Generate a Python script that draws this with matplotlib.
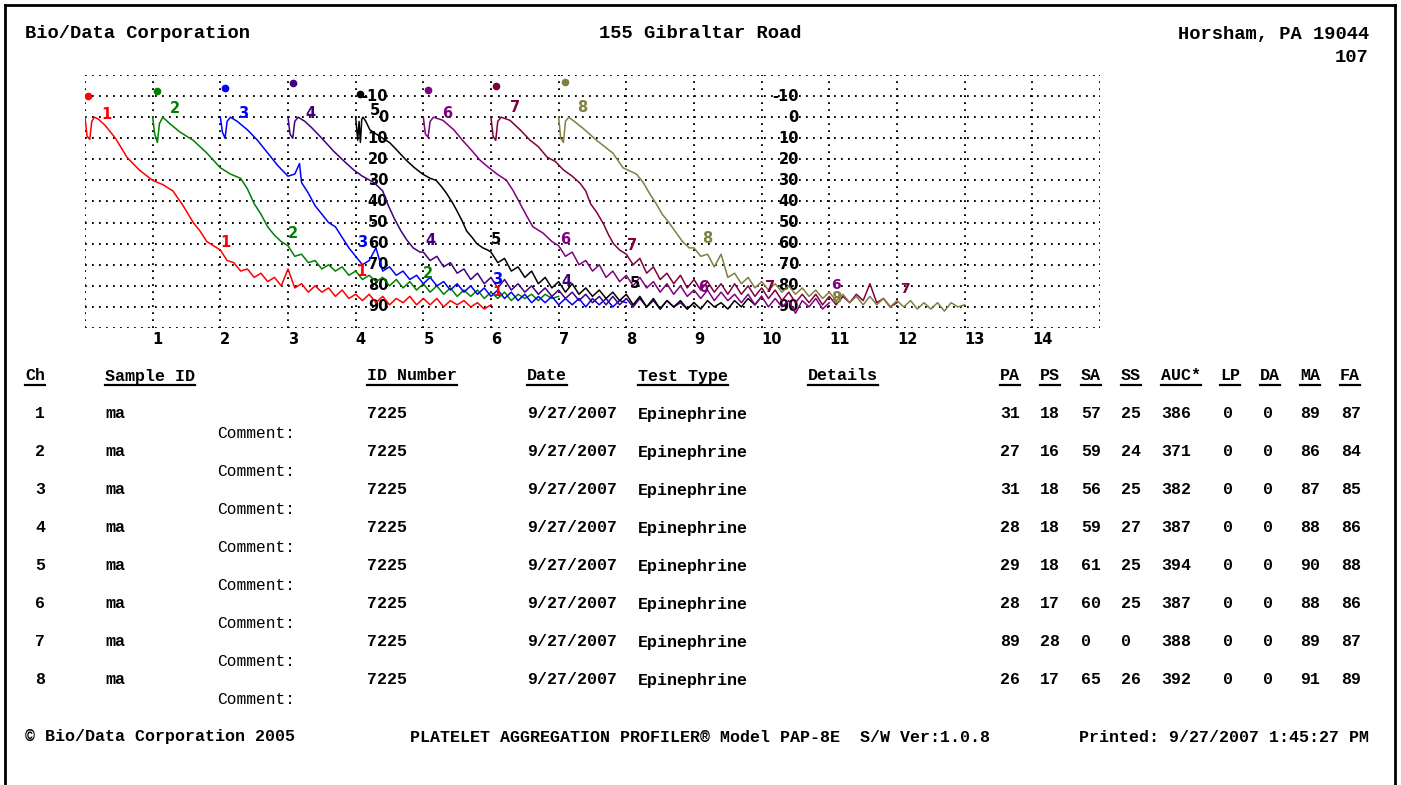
import matplotlib
matplotlib.use("Agg")
import matplotlib.pyplot as plt
from matplotlib.lines import Line2D

# ---------------- data ----------------
CH_START = [0, 1, 2, 3, 4, 5, 6, 7]          # minutes at which each channel trace starts
CH_COLORS = ["#ff0000", "#008000", "#0000ff", "#400080",
             "#000000", "#800080", "#800040", "#808040"]

HEAD_T = [
    [0, 0.03, 0.07, 0.1, 0.14, 0.2, 0.3, 0.45, 0.62, 0.8, 1.0, 1.15, 1.3, 1.45, 1.6, 1.7, 1.8, 1.9],
    [0, 0.03, 0.07, 0.1, 0.15, 0.25, 0.4, 0.6, 0.8, 1.0, 1.15, 1.3, 1.4, 1.5, 1.6, 1.7, 1.8, 1.9],
    [0, 0.03, 0.07, 0.1, 0.15, 0.25, 0.4, 0.55, 0.7, 0.85, 1.0, 1.1, 1.17, 1.2, 1.3, 1.4, 1.5, 1.6, 1.7, 1.8, 1.9],
    [0, 0.03, 0.07, 0.1, 0.15, 0.25, 0.35, 0.5, 0.67, 0.8, 0.97, 1.1, 1.27, 1.4, 1.47, 1.57, 1.67, 1.75, 1.85, 1.95],
    [0, 0.03, 0.05, 0.07, 0.09, 0.11, 0.15, 0.21, 0.35, 0.5, 0.62, 0.75, 0.87, 0.99, 1.1, 1.19, 1.27, 1.34,
     1.42, 1.49, 1.57, 1.64, 1.72, 1.79, 1.88, 1.95],
    [0, 0.03, 0.07, 0.1, 0.15, 0.29, 0.45, 0.58, 0.72, 0.84, 0.97, 1.09, 1.23, 1.33, 1.43, 1.53, 1.62, 1.77, 1.9],
    [0, 0.03, 0.07, 0.1, 0.15, 0.28, 0.43, 0.58, 0.7, 0.83, 0.95, 1.07, 1.2, 1.32, 1.4, 1.47, 1.56, 1.66,
     1.74, 1.81, 1.9],
    [0, 0.03, 0.07, 0.1, 0.15, 0.21, 0.35, 0.56, 0.68, 0.8, 0.95, 1.15, 1.25, 1.34, 1.44, 1.53, 1.63, 1.74,
     1.83, 1.93],
]
HEAD_V = [
    [0, 9, 10.5, 2, 0, 1, 4, 10, 19, 25, 30, 32, 35, 42, 50, 54, 59, 61],
    [0, 8, 12, 3, 0, 3, 7, 11, 17, 24, 27, 29, 34, 41, 46, 52, 56, 59],
    [0, 7, 10, 2, 0, 2, 6, 11, 17, 23, 28, 27, 22, 31, 36, 42, 46, 50, 52, 57, 62],
    [0, 8, 10, 2, 0, 2, 5, 10, 16, 20, 25, 28, 31, 35, 41, 48, 54, 58, 62, 64],
    [0, 11, 2, 12, 1, 0, 2, 6, 9, 12, 16, 20.5, 24, 27, 29, 30, 33, 36, 40, 44, 49, 54, 57, 60, 62, 63],
    [0, 8, 9.5, 2, 0, 1.5, 6, 11, 16, 20.5, 24, 27, 30, 35, 41, 47, 52, 55, 59],
    [0, 9, 11, 2, 0, 1.5, 6, 11, 14, 19, 21, 25, 28, 31.5, 35, 41, 45, 50.5, 56, 60, 63],
    [0, 10, 12, 2, 0, 1.5, 5, 11, 14, 17, 24, 27, 31, 36, 41, 46, 50, 55, 59, 62],
]

TAIL_T = [2.0, 2.1, 2.2, 2.3, 2.4, 2.5, 2.6, 2.7, 2.8, 2.9, 3.0, 3.1, 3.2, 3.3, 3.4, 3.5, 3.6, 3.7, 3.8,
          3.9, 4.0, 4.1, 4.2, 4.3, 4.4, 4.5, 4.6, 4.7, 4.8, 4.9, 5.0, 5.1, 5.2, 5.3, 5.4, 5.5, 5.6, 5.7,
          5.8, 5.9, 6.0]
TAIL_V = [
    [63, 68, 69, 73, 72, 76, 74, 78, 76, 80, 72, 81, 79, 83, 80, 83, 81, 85, 82, 86, 84, 87, 84, 88, 85,
     89, 86, 88, 85, 89, 86, 89, 86, 90, 87, 89, 87, 90, 88, 91, 89],
    [61, 66, 65, 69, 68, 72, 70, 73, 71, 75, 73, 77, 75, 78, 76, 80, 77, 81, 78, 82, 79, 83, 80, 84, 81,
     85, 82, 85, 82, 86, 83, 86, 83, 87, 84, 86, 84, 87, 84, 86, 85],
    [66, 70, 68, 62, 73, 71, 75, 73, 77, 75, 79, 76, 80, 78, 82, 79, 83, 80, 84, 81, 85, 82, 86, 83, 87,
     84, 88, 85, 88, 85, 89, 86, 89, 86, 90, 86, 89, 86, 90, 87, 88],
    [64, 68, 66, 71, 69, 74, 72, 77, 74, 79, 76, 81, 77, 82, 79, 83, 80, 84, 81, 85, 82, 86, 83, 87, 84,
     88, 85, 89, 85, 89, 86, 90, 86, 90, 87, 91, 87, 90, 88, 91, 88],
    [64, 69, 67, 73, 71, 76, 73, 79, 76, 81, 78, 83, 79, 84, 81, 85, 82, 86, 83, 87, 84, 89, 85, 90, 86,
     91, 87, 90, 87, 91, 88, 91, 87, 90, 88, 91, 87, 90, 86, 89, 85],
    [61, 66, 64, 70, 68, 73, 70, 76, 73, 78, 75, 80, 76, 81, 78, 83, 79, 84, 80, 85, 82, 86, 82, 87, 83,
     87, 84, 88, 84, 89, 85, 90, 86, 90, 87, 93, 87, 90, 86, 91, 88],
    [65, 70, 67, 74, 71, 77, 74, 79, 75, 81, 77, 82, 78, 83, 79, 84, 79, 84, 80, 85, 81, 86, 82, 87, 83,
     88, 84, 88, 84, 89, 85, 89, 85, 88, 84, 87, 79, 88, 86, 90, 88],
    [62, 66, 65, 71, 65, 76, 74, 79, 76, 81, 78, 82, 79, 83, 80, 84, 81, 85, 82, 86, 83, 87, 84, 88, 85,
     89, 85, 89, 86, 90, 87, 90, 87, 91, 88, 91, 88, 92, 88, 90, 89],
]

# reagent-addition dots (relative minute, % value)
DOT_T = [0.05, 0.06, 0.07, 0.07, 0.06, 0.07, 0.08, 0.1]
DOT_V = [-10, -12.4, -13.8, -16, -11, -12.9, -14.8, -16.7]

# channel number labels along each trace (relative minute, % value)
LAB1_T = [0.31, 0.33, 0.34, 0.33, 0.28, 0.35, 0.35, 0.35]
LAB1_V = [-1.4, -4.3, -1.9, -1.9, -3.0, -1.9, -4.8, -4.8]
LAB2_T = [2.07, 2.07, 2.09, 2.1, 2.08, 2.09, 2.09, 2.19]
LAB2_V = [59.5, 55, 59.5, 58.6, 58, 58, 61, 57.6]
LAB3_T = [4.09, 4.07, 4.09, 4.12, 4.12, 4.13, 4.12, 4.1]
LAB3_V = [73, 74, 77, 78, 79, 81, 81, 86]
# end-of-trace labels visible for channels 1, 6 and 7
LAB4_CH = [1, 6, 7]
LAB4_T = [6.1, 6.1, 6.11]
LAB4_V = [83, 79.5, 81.4]

Y_LABELS = [-10, 0, 10, 20, 30, 40, 50, 60, 70, 80, 90]
Y_LABEL_X = [4.48, 10.55]
X_TICKS = list(range(1, 15))

HEADER_LEFT = "Bio/Data Corporation"
HEADER_MID = "155 Gibraltar Road"
HEADER_RIGHT = "Horsham, PA 19044"
PAGE_NO = "107"

COL_NAMES = ["Ch", "Sample ID", "ID Number", "Date", "Test Type", "Details",
             "PA", "PS", "SA", "SS", "AUC*", "LP", "DA", "MA", "FA"]
CH_NUM = ["1", "2", "3", "4", "5", "6", "7", "8"]
SAMPLE_ID = ["ma"] * 8
ID_NUMBER = ["7225"] * 8
DATES = ["9/27/2007"] * 8
TEST_TYPE = ["Epinephrine"] * 8
PA = [31, 27, 31, 28, 29, 28, 89, 26]
PS = [18, 16, 18, 18, 18, 17, 28, 17]
SA = [57, 59, 56, 59, 61, 60, 0, 65]
SS = [25, 24, 25, 27, 25, 25, 0, 26]
AUC = [386, 371, 382, 387, 394, 387, 388, 392]
LP = [0] * 8
DA = [0] * 8
MA = [89, 86, 87, 88, 90, 88, 89, 91]
FA = [87, 84, 85, 86, 88, 86, 87, 89]

FOOT_LEFT = "\u00a9 Bio/Data Corporation 2005"
FOOT_MID = "PLATELET AGGREGATION PROFILER\u00ae Model PAP-8E  S/W Ver:1.0.8"
FOOT_RIGHT = "Printed: 9/27/2007 1:45:27 PM"

# ---------------- figure ----------------
W, H = 1401, 785
fig = plt.figure(figsize=(W / 100, H / 100), dpi=100)
fig.patch.set_facecolor("white")


def fx(px):
    return px / W


def fy(py):
    return 1 - py / H


MONO = "Liberation Mono"
SANS = "DejaVu Sans"

# page frame
for xs, ys in [([5, 5], [5, 790]), ([5, 1395], [5, 5]), ([1395, 1395], [5, 790])]:
    fig.add_artist(Line2D([fx(x) for x in xs], [fy(y) for y in ys], color="black", lw=2,
                          transform=fig.transFigure))

# header
fig.text(fx(25), fy(34), HEADER_LEFT, family=MONO, weight="bold", fontsize=13.5, va="center", ha="left")
fig.text(fx(700), fy(34), HEADER_MID, family=MONO, weight="bold", fontsize=13.5, va="center", ha="center")
fig.text(fx(1369), fy(34), HEADER_RIGHT, family=MONO, weight="bold", fontsize=13.5, va="center", ha="right")
fig.text(fx(1369), fy(57), PAGE_NO, family=MONO, weight="bold", fontsize=13.5, va="center", ha="right")

# plot area
ax = fig.add_axes([fx(85), fy(328), fx(1100) - fx(85), fy(75) - fy(328)])
ax.set_xlim(0, 15)
ax.set_ylim(100, -20)
for s in ax.spines.values():
    s.set_visible(False)
ax.set_xticks([])
ax.set_yticks([])
dots = (0, (0.9, 2.7))
for gx in range(0, 16):
    ax.axvline(gx, color="black", lw=1.4, linestyle=dots, zorder=1)
for gy in range(-20, 101, 10):
    ax.axhline(gy, color="black", lw=1.4, linestyle=dots, zorder=1)

# y value labels
for xl in Y_LABEL_X:
    for yv in Y_LABELS:
        ax.text(xl, yv, str(yv), family=SANS, weight="bold", fontsize=10.5, ha="right", va="center",
                color="black", zorder=2)

# x tick labels
for xt in X_TICKS:
    ax.text(xt, 105.5, str(xt), family=SANS, weight="bold", fontsize=10.5, ha="left", va="center",
            clip_on=False)

# traces
for i in range(8):
    t0 = CH_START[i]
    c = CH_COLORS[i]
    ts = [t0 + t for t in HEAD_T[i] + TAIL_T]
    vs = HEAD_V[i] + TAIL_V[i]
    ax.plot(ts, vs, color=c, lw=1.1, zorder=3)
    ax.plot([t0 + DOT_T[i]], [DOT_V[i]], "o", color=c, ms=4.5, zorder=4)
    lab = str(i + 1)
    for lt, lv in [(LAB1_T[i], LAB1_V[i]), (LAB2_T[i], LAB2_V[i]), (LAB3_T[i], LAB3_V[i])]:
        ax.text(t0 + lt, lv, lab, color=c, family=SANS, weight="bold", fontsize=10.5,
                ha="center", va="center", zorder=5)

for ch, lt, lv in zip(LAB4_CH, LAB4_T, LAB4_V):
    i = ch - 1
    ax.text(CH_START[i] + lt, lv, str(ch), color=CH_COLORS[i], family=SANS, weight="bold",
            fontsize=10, ha="center", va="center", zorder=5)

# table header
COL_X = [25, 105, 367, 527, 638, 808, 1000, 1040, 1081, 1121, 1161, 1220, 1260, 1300, 1340]
CHAR_W = 10.0
for name, x in zip(COL_NAMES, COL_X):
    fig.text(fx(x), fy(376), name, family=MONO, weight="bold", fontsize=12, ha="left", va="center")
    fig.add_artist(Line2D([fx(x), fx(x + CHAR_W * len(name))], [fy(385), fy(385)], color="black",
                          lw=1.6, transform=fig.transFigure))

# table rows
VAL_X = [35, 105, 367, 527, 638, 1000, 1040, 1081, 1121, 1161, 1223, 1263, 1300, 1341]
for r in range(8):
    y = 414 + 38 * r
    row = [CH_NUM[r], SAMPLE_ID[r], ID_NUMBER[r], DATES[r], TEST_TYPE[r],
           PA[r], PS[r], SA[r], SS[r], AUC[r], LP[r], DA[r], MA[r], FA[r]]
    for val, x in zip(row, VAL_X):
        fig.text(fx(x), fy(y), str(val), family=MONO, weight="bold", fontsize=12, ha="left", va="center")
    fig.text(fx(217), fy(y + 20), "Comment:", family=MONO, fontsize=11.7, ha="left", va="center")

# footer
fig.text(fx(25), fy(737), FOOT_LEFT, family=MONO, weight="bold", fontsize=12, ha="left", va="center")
fig.text(fx(410), fy(737), FOOT_MID, family=MONO, weight="bold", fontsize=12, ha="left", va="center")
fig.text(fx(1369), fy(737), FOOT_RIGHT, family=MONO, weight="bold", fontsize=12, ha="right", va="center")

fig.savefig("out.png", dpi=100, facecolor="white")
